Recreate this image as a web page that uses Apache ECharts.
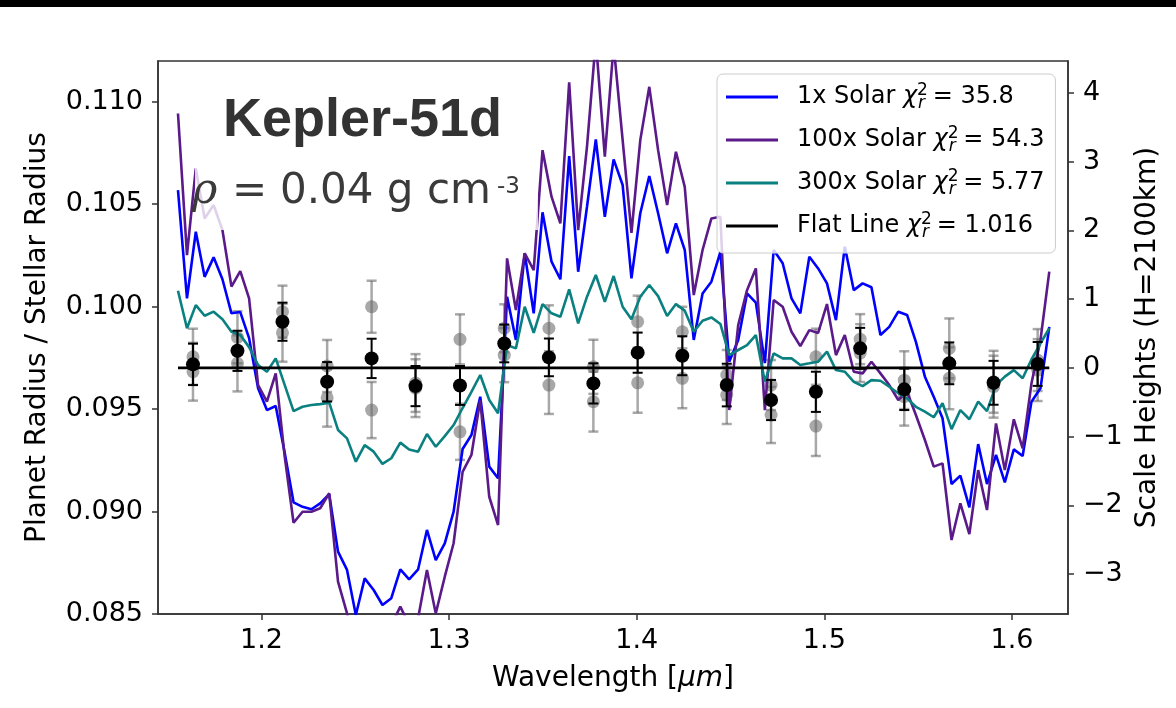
<!DOCTYPE html>
<html><head><meta charset="utf-8">
<script src="https://cdn.jsdelivr.net/npm/echarts@6/dist/echarts.min.js"></script>
<style>html,body{margin:0;padding:0;background:#fff}#c{width:1176px;height:708px}</style>
</head><body><div id="c"></div>
<script>
// ---------- data ----------
const wavelengths = [1.1555,1.1603,1.1650,1.1697,1.1745,1.1792,1.1840,1.1887,1.1934,1.1982,
1.2029,1.2076,1.2124,1.2171,1.2219,1.2266,1.2313,1.2361,1.2408,1.2456,
1.2503,1.2550,1.2598,1.2645,1.2692,1.2740,1.2787,1.2835,1.2882,1.2929,
1.2977,1.3024,1.3072,1.3119,1.3166,1.3214,1.3261,1.3309,1.3356,1.3403,
1.3451,1.3498,1.3546,1.3593,1.3640,1.3688,1.3735,1.3782,1.3830,1.3877,
1.3925,1.3972,1.4019,1.4067,1.4114,1.4162,1.4209,1.4256,1.4304,1.4351,
1.4398,1.4446,1.4493,1.4541,1.4588,1.4635,1.4683,1.4730,1.4778,1.4825,
1.4872,1.4920,1.4967,1.5014,1.5062,1.5109,1.5157,1.5204,1.5251,1.5299,
1.5346,1.5394,1.5441,1.5488,1.5536,1.5583,1.5630,1.5678,1.5725,1.5773,
1.5820,1.5867,1.5915,1.5962,1.6010,1.6057,1.6104,1.6152,1.6199];

const solar1x = [0.10568,0.10040,0.10365,0.10145,0.10240,0.10133,0.09967,0.09973,0.09846,0.09601,
0.09495,0.09515,0.09285,0.09045,0.09023,0.09011,0.09040,0.09085,0.08804,0.08715,
0.08495,0.08674,0.08617,0.08544,0.08577,0.08718,0.08669,0.08718,0.08910,0.08763,
0.08845,0.08999,0.09305,0.09373,0.09560,0.09219,0.09162,0.10048,0.09837,0.10260,
0.09967,0.10460,0.10219,0.10133,0.10734,0.10170,0.10487,0.10816,0.10438,0.10718,
0.10593,0.10138,0.10455,0.10637,0.10455,0.10260,0.10406,0.10276,0.09837,0.10064,
0.10121,0.10267,0.09731,0.09837,0.10064,0.10019,0.09724,0.10276,0.10211,0.10040,
0.09967,0.10243,0.10186,0.10113,0.09934,0.10292,0.10080,0.10113,0.10094,0.09861,
0.09901,0.09975,0.09959,0.09828,0.09658,0.09560,0.09455,0.09134,0.09175,0.09020,
0.09329,0.09134,0.09276,0.09142,0.09303,0.09271,0.09536,0.09601,0.09901];

const solar100x = [0.10942,0.10251,0.10674,0.10430,0.10495,0.10373,0.10097,0.10173,0.10040,0.09617,
0.09536,0.09674,0.09267,0.08945,0.08999,0.08999,0.09016,0.09089,0.08658,0.08503,
0.08324,0.08471,0.08422,0.08373,0.08446,0.08536,0.08446,0.08480,0.08715,0.08503,
0.08682,0.08845,0.09193,0.09276,0.09544,0.09072,0.08934,0.10235,0.09983,0.10260,
0.10178,0.10763,0.10536,0.10406,0.11094,0.10373,0.10780,0.11300,0.10731,0.11276,
0.10812,0.10360,0.10812,0.11072,0.10763,0.10495,0.10755,0.10584,0.10056,0.10276,
0.10430,0.10438,0.09495,0.09910,0.10080,0.10186,0.09495,0.10032,0.09999,0.09877,
0.09807,0.09885,0.09871,0.10012,0.09763,0.09861,0.09682,0.09674,0.09731,0.09674,
0.09617,0.09544,0.09584,0.09471,0.09349,0.09219,0.09235,0.08861,0.09040,0.08890,
0.09202,0.09007,0.09430,0.09202,0.09450,0.09308,0.09625,0.09837,0.10170];

const solar300x = [0.10077,0.09894,0.10007,0.09955,0.09975,0.09938,0.09877,0.09861,0.09802,0.09715,
0.09682,0.09747,0.09617,0.09490,0.09511,0.09520,0.09524,0.09531,0.09398,0.09357,
0.09243,0.09324,0.09292,0.09232,0.09260,0.09336,0.09303,0.09292,0.09378,0.09316,
0.09368,0.09422,0.09505,0.09584,0.09666,0.09544,0.09479,0.09812,0.09796,0.09999,
0.09872,0.10012,0.09967,0.09950,0.10084,0.09918,0.10048,0.10154,0.10023,0.10149,
0.09999,0.09938,0.10048,0.10105,0.10051,0.09954,0.10012,0.09980,0.09877,0.09931,
0.09947,0.09915,0.09763,0.09788,0.09812,0.09861,0.09633,0.09772,0.09747,0.09747,
0.09715,0.09723,0.09731,0.09780,0.09690,0.09682,0.09633,0.09612,0.09641,0.09638,
0.09609,0.09577,0.09552,0.09511,0.09487,0.09460,0.09528,0.09402,0.09495,0.09450,
0.09536,0.09490,0.09617,0.09658,0.09690,0.09650,0.09742,0.09820,0.09894];

const flatLineValue = 0.09701;
const flatLineRange = [1.1555, 1.6199];

const obsWavelengths = [1.1635,1.1872,1.2112,1.2350,1.2587,1.2821,1.3058,1.3294,1.3532,1.3769,
1.4005,1.4243,1.4480,1.4716,1.4955,1.5191,1.5426,1.5666,1.5902,1.6137];
const obsCombined = [0.09718,0.09784,0.09926,0.09633,0.09747,0.09612,0.09615,0.09820,0.09752,0.09625,
0.09775,0.09760,0.09617,0.09544,0.09584,0.09796,0.09596,0.09723,0.09628,0.09720];
const obsCombinedErr = [0.00101,0.00098,0.00093,0.00096,0.00096,0.00098,0.00095,0.00092,0.00092,0.00098,
0.00098,0.00095,0.00104,0.00098,0.00098,0.00100,0.00101,0.00102,0.00107,0.00107];
const obsVisitA = [0.09755,0.09850,0.09975,0.09710,0.09999,0.09627,0.09840,0.09894,0.09894,0.09706,
0.09926,0.09877,0.09666,0.09617,0.09755,0.09841,0.09641,0.09796,0.09633,0.09739];
const obsVisitAErr = [0.00137,0.00127,0.00127,0.00127,0.00127,0.00141,0.00122,0.00117,0.00112,0.00132,
0.00127,0.00122,0.00122,0.00122,0.00137,0.00122,0.00141,0.00146,0.00151,0.00151];
const obsVisitB = [0.09682,0.09723,0.09872,0.09555,0.09495,0.09602,0.09389,0.09763,0.09617,0.09536,
0.09628,0.09650,0.09568,0.09471,0.09417,0.09773,0.09560,0.09650,0.09609,0.09690];
const obsVisitBErr = [0.00141,0.00137,0.00141,0.00141,0.00137,0.00141,0.00137,0.00132,0.00141,0.00146,
0.00146,0.00146,0.00141,0.00137,0.00146,0.00141,0.00141,0.00151,0.00151,0.00151];

const legendNames = ['1x Solar','100x Solar','300x Solar','Flat Line'];
const legendChi2 = ['35.8','54.3','5.77','1.016'];
const xTicks = [1.2,1.3,1.4,1.5,1.6];
const yTicks = [0.085,0.090,0.095,0.100,0.105,0.110];
const scaleHeightTicks = [-3,-2,-1,0,1,2,3,4];

// ---------- chart ----------
const FONT = 'DejaVu Sans';
const AX = '#333';
const pairs = (xs, ys) => xs.map((x, i) => [x, ys[i]]);
const triples = (xs, ys, es) => xs.map((x, i) => [x, ys[i], es[i]]);

function errorBars(name, data, color, lw, cap, z) {
  return {
    type: 'custom', name: name, z: z, silent: true, data: data,
    encode: { x: 0, y: 1 },
    renderItem: function (params, api) {
      const x = api.value(0), y = api.value(1), e = api.value(2);
      const lo = api.coord([x, y - e]), hi = api.coord([x, y + e]);
      const st = { stroke: color, lineWidth: lw };
      return { type: 'group', children: [
        { type: 'line', shape: { x1: lo[0], y1: lo[1], x2: hi[0], y2: hi[1] }, style: st },
        { type: 'line', shape: { x1: lo[0] - cap, y1: lo[1], x2: lo[0] + cap, y2: lo[1] }, style: st },
        { type: 'line', shape: { x1: hi[0] - cap, y1: hi[1], x2: hi[0] + cap, y2: hi[1] }, style: st }
      ]};
    }
  };
}
function modelLine(name, ys, color, z) {
  return { type: 'line', name: name, data: pairs(wavelengths, ys), color: color, symbol: 'none',
    lineStyle: { color: color, width: 2.6 }, z: z, silent: true, clip: true };
}
const greyC = 'rgba(105,105,105,0.58)';

const chart = echarts.init(document.getElementById('c'), null, { renderer: 'canvas', width: 1176, height: 708 });
chart.setOption({
  animation: false,
  backgroundColor: '#fff',
  grid: { left: 158, right: 108, top: 61, bottom: 94, show: true, borderColor: AX, borderWidth: 1.5,
          backgroundColor: 'transparent', containLabel: false, outerBoundsMode: 'none' },
  xAxis: {
    type: 'value', min: 1.14485, max: 1.62987,
    axisLine: { show: true, onZero: false, lineStyle: { color: AX, width: 1.5 } },
    axisTick: { show: true, inside: false, length: 6, customValues: xTicks, lineStyle: { color: AX, width: 1.5 } },
    axisLabel: { customValues: xTicks, formatter: v => v.toFixed(1), fontFamily: FONT, fontSize: 27, color: '#000', margin: 13 },
    splitLine: { show: false },
    name: 'Wavelength [{it|μm}]', nameLocation: 'middle', nameGap: 51,
    nameTextStyle: { fontFamily: FONT, fontSize: 28, color: '#000',
      rich: { it: { fontFamily: FONT, fontSize: 28, fontStyle: 'italic', color: '#000' } } }
  },
  yAxis: [{
    type: 'value', position: 'left', min: 0.085, max: 0.11198,
    axisLine: { show: true, onZero: false, lineStyle: { color: AX, width: 1.5 } },
    axisTick: { show: true, length: 6, customValues: yTicks, lineStyle: { color: AX, width: 1.5 } },
    axisLabel: { customValues: yTicks, formatter: v => v.toFixed(3), fontFamily: FONT, fontSize: 27, color: '#000', margin: 15 },
    splitLine: { show: false },
    name: 'Planet Radius / Stellar Radius', nameLocation: 'middle', nameRotate: 90, nameGap: 106,
    nameTextStyle: { fontFamily: FONT, fontSize: 28, color: '#000' }
  }, {
    type: 'value', position: 'right', min: -3.58, max: 4.462,
    axisLine: { show: true, onZero: false, lineStyle: { color: AX, width: 1.5 } },
    axisTick: { show: true, length: 6, customValues: scaleHeightTicks, lineStyle: { color: AX, width: 1.5 } },
    axisLabel: { customValues: scaleHeightTicks, formatter: v => (v < 0 ? '\u2212' + Math.abs(v) : String(v)),
      fontFamily: FONT, fontSize: 27, color: '#000', margin: 15 },
    splitLine: { show: false },
    name: 'Scale Heights (H=2100km)', nameLocation: 'middle', nameRotate: 90, nameGap: 61,
    nameTextStyle: { fontFamily: FONT, fontSize: 28, color: '#000' }
  }],
  legend: {
    left: 717, top: 74, orient: 'vertical', selectedMode: false,
    data: legendNames, icon: 'rect', itemWidth: 52, itemHeight: 3, itemGap: 13,
    backgroundColor: 'rgba(255,255,255,0.8)', borderColor: '#cccccc', borderWidth: 1, borderRadius: 6,
    padding: [8, 11, 12, 9],
    formatter: name => {
      const i = legendNames.indexOf(name);
      return name + ' {chi|χ}{sup|2}{sub|r}{eq| = ' + legendChi2[i] + '}';
    },
    textStyle: { fontFamily: FONT, fontSize: 24, color: '#000', lineHeight: 30, padding: [0, 0, 0, 14],
      rich: {
        chi: { fontFamily: FONT, fontSize: 24, fontStyle: 'italic', color: '#000', lineHeight: 30 },
        sup: { fontFamily: FONT, fontSize: 17, color: '#000', lineHeight: 18, verticalAlign: 'top', width: 1 },
        sub: { fontFamily: FONT, fontSize: 17, fontStyle: 'italic', color: '#000', lineHeight: 18, verticalAlign: 'bottom' },
        eq: { fontFamily: FONT, fontSize: 24, color: '#000', lineHeight: 30 }
      } }
  },
  graphic: [
    { type: 'rect', shape: { x: 0, y: 0, width: 1176, height: 7 }, style: { fill: '#000' }, z: 100, silent: true },
    { type: 'rect', shape: { x: 195, y: 167, width: 343, height: 63 }, style: { fill: 'rgba(255,255,255,0.8)' }, z: 50, silent: true },
    { type: 'text', x: 223, y: 121, z: 51, silent: true,
      style: { text: 'Kepler-51d', font: 'bold 54px "Liberation Sans"', fill: '#333', align: 'left', verticalAlign: 'middle' } },
    { type: 'text', x: 192, y: 192, z: 51, silent: true,
      style: { text: 'ρ', font: 'italic 43px "DejaVu Serif"', fill: '#3a3a3a', align: 'left', verticalAlign: 'middle' } },
    { type: 'text', x: 232, y: 192, z: 51, silent: true,
      style: { text: '=', font: '42px "DejaVu Sans"', fill: '#3a3a3a', align: 'left', verticalAlign: 'middle' } },
    { type: 'text', x: 280, y: 192, z: 51, silent: true,
      style: { text: '0.04 g cm', font: '42px "DejaVu Sans"', fill: '#3a3a3a', align: 'left', verticalAlign: 'middle' } },
    { type: 'text', x: 497, y: 187, z: 51, silent: true,
      style: { text: '-3', font: '23px "DejaVu Sans"', fill: '#3a3a3a', align: 'left', verticalAlign: 'middle' } }
  ],
  series: [
    errorBars('visitA_err', triples(obsWavelengths, obsVisitA, obsVisitAErr), greyC, 2.5, 5, 1),
    errorBars('visitB_err', triples(obsWavelengths, obsVisitB, obsVisitBErr), greyC, 2.5, 5, 1),
    { type: 'scatter', name: 'visitA', data: pairs(obsWavelengths, obsVisitA), symbolSize: 13, itemStyle: { color: greyC, opacity: 1 }, z: 1, silent: true },
    { type: 'scatter', name: 'visitB', data: pairs(obsWavelengths, obsVisitB), symbolSize: 13, itemStyle: { color: greyC, opacity: 1 }, z: 1, silent: true },
    modelLine('1x Solar', solar1x, '#0000ff', 3),
    modelLine('100x Solar', solar100x, '#5a1a8a', 3),
    modelLine('300x Solar', solar300x, '#0b8080', 3),
    { type: 'line', name: 'Flat Line', data: [[flatLineRange[0], flatLineValue], [flatLineRange[1], flatLineValue]],
      color: '#000', symbol: 'none', lineStyle: { color: '#000', width: 2.6 }, z: 4, silent: true },
    errorBars('combined_err', triples(obsWavelengths, obsCombined, obsCombinedErr), '#000', 2, 5, 5),
    { type: 'scatter', name: 'combined', data: pairs(obsWavelengths, obsCombined), symbolSize: 14, itemStyle: { color: '#000', opacity: 1 }, z: 6, silent: true }
  ]
});
</script></body></html>
